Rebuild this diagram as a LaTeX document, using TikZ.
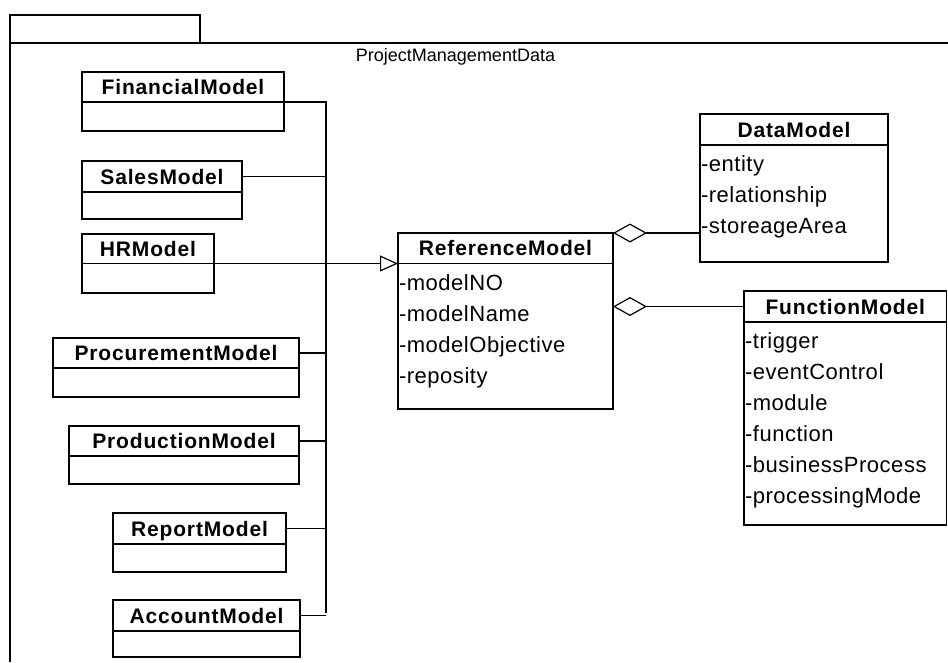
\documentclass[tikz,border=0pt]{standalone}
\usepackage{fontspec}
\setmainfont{Liberation Sans}
\usetikzlibrary{arrows.meta}

% UML class: header node (name) and body node (name-b) below it
% #1 name, #2 x-left, #3 y-top, #4 x-right, #5 y-divider, #6 y-bottom, #7 title
\newcommand{\umlclass}[7]{%
  \node[classhead, minimum width={#4-#2}, minimum height={#5-#3},
        anchor=north west] (#1) at (#2,#3) {#7};
  \node[classbody, minimum width={#4-#2}, minimum height={#6-#5},
        anchor=north west] (#1-b) at (#1.south west) {};
}
% attribute list inside the body of class #1
\newcommand{\umlattrs}[2]{%
  \foreach \t [count=\i] in {#2}
    \node[attr, anchor=base west] (#1-a\i)
      at ([xshift=0.8pt, yshift={-26.5-31*(\i-1)}]#1-b.north west) {\t};
}

\begin{document}
\begin{tikzpicture}[x=1pt, y=-1pt,
  frame/.style={line width=1.8pt, line join=miter},
  classhead/.style={draw, line width=1.3pt, outer sep=0pt, inner sep=0pt,
    font=\fontsize{21}{24}\selectfont\bfseries\addfontfeature{LetterSpace=4},
    text height=15pt, text depth=0pt},
  classbody/.style={draw, line width=1.3pt, outer sep=0pt, inner sep=0pt},
  attr/.style={inner sep=0pt,
    font=\fontsize{22}{26}\selectfont\addfontfeature{LetterSpace=2.4}},
  wire/.style={line width=1.2pt},
  gen/.style={-{Triangle[open, length=18pt, width=16pt]}},
  agg/.style={{Diamond[open, length=34pt, width=19pt]}-},
  pkgtitle/.style={inner sep=0pt, font=\fontsize{18}{21}\selectfont}
]
\useasboundingbox (0,0) rectangle (948,662);

% package frame with its tab
\draw[frame] (10,662) -- (10,43) -- (948,43);
\draw[frame] (10,43) rectangle (200,15);
\node[pkgtitle] (pkg) at (455.5,57) {ProjectManagementData};

% classes on the left
\umlclass{fin}{82}{72}{284}{102}{131}{FinancialModel}
\umlclass{sales}{82}{161}{242}{192}{219}{SalesModel}
\umlclass{hr}{82}{234}{214}{263.5}{293}{HRModel}
\umlclass{proc}{53}{338}{299}{368}{397}{ProcurementModel}
\umlclass{prod}{69}{426}{299}{456}{484}{ProductionModel}
\umlclass{rep}{113}{513}{286}{544}{572}{ReportModel}
\umlclass{acc}{113}{600}{300}{631}{657}{AccountModel}

% central and right classes
\umlclass{ref}{398}{233}{613}{263.5}{409}{ReferenceModel}
\umlattrs{ref}{-modelNO,-modelName,-modelObjective,-reposity}
\umlclass{data}{700}{114}{888}{145}{262}{DataModel}
\umlattrs{data}{-entity,-relationship,-storeageArea}
\umlclass{func}{744}{291}{946.5}{322}{525}{FunctionModel}
\umlattrs{func}{-trigger,-eventControl,-module,-function,-businessProcess,-processingMode}

% shared bus of the left classes
\coordinate (bustop) at (326,101);
\coordinate (busbot) at (326,613);
\draw[wire] (fin.south east) -- (fin.south east -| bustop) -- (busbot);
\draw[wire] (sales.east) -- (sales.east -| bustop);
\draw[wire] (proc.east) -- (proc.east -| bustop);
\draw[wire] (prod.east) -- (prod.east -| bustop);
\draw[wire] (rep.east) -- (rep.east -| bustop);
\draw[wire] (acc.east) -- (acc.east -| busbot);

% generalization into ReferenceModel
\draw[wire, gen] (hr.south east) -- (hr.south east -| ref.south west);

% aggregations
\draw[wire, agg] (ref.north east) -- (ref.north east -| data-b.west);
\draw[wire, agg] (func.west -| ref-b.east) -- (func.west);
\end{tikzpicture}
\end{document}
